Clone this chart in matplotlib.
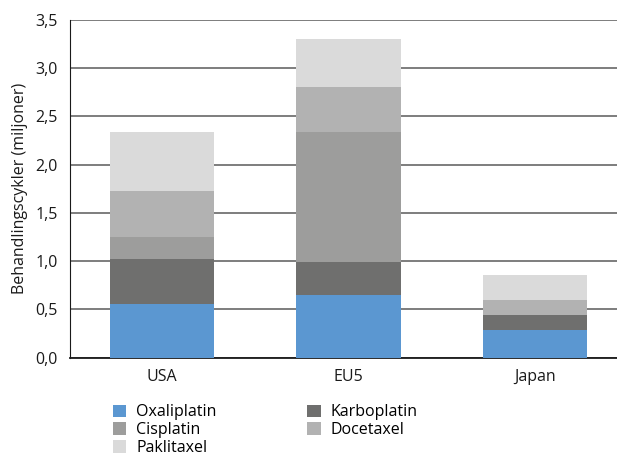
import matplotlib
matplotlib.use("Agg")
import matplotlib.pyplot as plt
from matplotlib.patches import Patch
from matplotlib.ticker import FuncFormatter
import numpy as np

plt.rcParams['font.family'] = ['Open Sans', 'DejaVu Sans']

regions = ["USA", "EU5", "Japan"]
drugs = ["Oxaliplatin", "Karboplatin", "Cisplatin", "Docetaxel", "Paklitaxel"]
oxaliplatin = [0.55, 0.65, 0.29]
karboplatin = [0.47, 0.34, 0.15]
cisplatin = [0.23, 1.35, 0.00]
docetaxel = [0.48, 0.47, 0.16]
paklitaxel = [0.61, 0.49, 0.26]
series = [oxaliplatin, karboplatin, cisplatin, docetaxel, paklitaxel]
colors = ["#5b97d1", "#6f6f6e", "#9d9d9c", "#b2b2b2", "#dadada"]

fig = plt.figure(figsize=(6.17, 4.57), dpi=100)
ax = fig.add_axes([0.1135, 0.2177, 0.886, 0.7385])

x = np.arange(len(regions))
bottom = np.zeros(len(regions))
for vals, col, name in zip(series, colors, drugs):
    ax.bar(x, vals, bottom=bottom, width=0.56, color=col, label=name, zorder=3)
    bottom += np.array(vals)

ax.set_ylim(0, 3.5)
ax.set_xlim(-0.495, 2.44)
ax.set_yticks(np.arange(0, 3.51, 0.5))
ax.yaxis.set_major_formatter(FuncFormatter(lambda v, p: f"{v:.1f}".replace(".", ",")))
ax.set_xticks(x)
ax.set_xticklabels(regions)
ax.tick_params(axis="both", length=0, labelsize=11.5, colors="#1a1a1a")
ax.tick_params(axis="x", pad=8)
ax.tick_params(axis="y", pad=9)
ax.yaxis.grid(True, color="#5a5a5a", linewidth=1.1, zorder=0)
for s in ["top", "right"]:
    ax.spines[s].set_visible(False)
ax.spines["left"].set_color("#1a1a1a")
ax.spines["bottom"].set_color("#1a1a1a")
ax.spines["bottom"].set_linewidth(1.3)
ax.set_ylabel("Behandlingscykler (miljoner)", fontsize=11.5, color="#1a1a1a", labelpad=5)

order = [0, 2, 4, 1, 3]
handles = [Patch(facecolor=colors[i], edgecolor="none") for i in order]
labels = [drugs[i] for i in order]
fig.legend(handles, labels, ncol=2, loc="upper left", bbox_to_anchor=(0.183, 0.115),
           frameon=False, fontsize=11.5, handlelength=0.85, handleheight=0.85,
           handletextpad=0.6, columnspacing=5.7, labelspacing=0.12,
           borderaxespad=0, borderpad=0)

fig.savefig("out.png", dpi=100)
